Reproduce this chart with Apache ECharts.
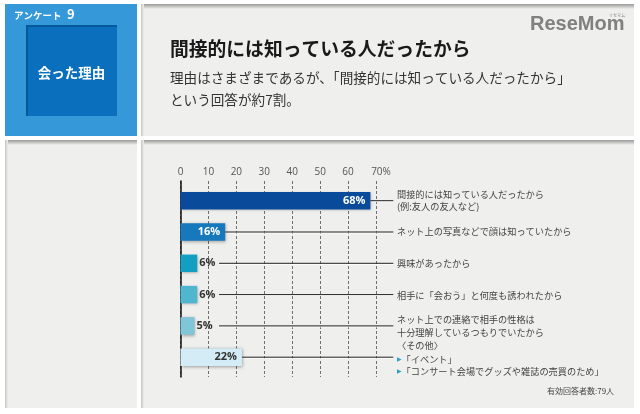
<!DOCTYPE html>
<html><head><meta charset="utf-8">
<style>html,body{margin:0;padding:0;background:#fff}#c{width:640px;height:414px}</style>
<script src="https://cdn.jsdelivr.net/npm/echarts@6/dist/echarts.min.js"></script>
</head><body><div id="c"></div>
<script>
const categories = ['間接的には知っている人だったから','ネット上の写真などで顔は知っていたから','興味があったから','相手に「会おう」と何度も誘われたから','ネット上での連絡で相手の性格は十分理解しているつもりでいたから','その他'];
const values = [68,16,6,6,5,22];
const leaderStart = [68,16,13.8,13.8,13.8,22];
const leaderEnd = 76.2;
const barColors = ['#0a4a9a','#1878bc','#129fc1','#50b5cf','#80c5d8','#d3ecf5'];
const xTicks = [0,10,20,30,40,50,60,70];
const textLines = [
  ['間接的には知っている人だったから',195],['(例:友人の友人など)',207],
  ['ネット上の写真などで顔は知っていたから',232],['興味があったから',263.5],
  ['相手に「会おう」と何度も誘われたから',295.5],
  ['ネット上での連絡で相手の性格は',320],['十分理解しているつもりでいたから',332.5],['〈その他〉',345.5],
  ['{m|▶}「イベント」',359.5],['{m|▶}「コンサート会場でグッズや雑誌の売買のため」',371.5]
];
const F = '"Noto Sans CJK JP","Noto Sans",sans-serif';
function panel(x,y,w,h){return [
  {type:'rect',shape:{x,y,width:w,height:h},style:{fill:'#efefed'}},
  {type:'rect',shape:{x,y,width:w,height:5},style:{fill:{type:'linear',x:0,y:0,x2:0,y2:1,colorStops:[{offset:0,color:'#9a9a98'},{offset:1,color:'#efefed'}]}}},
  {type:'rect',shape:{x,y,width:3,height:h},style:{fill:{type:'linear',x:0,y:0,x2:1,y2:0,colorStops:[{offset:0,color:'#c4c4c2'},{offset:1,color:'#efefed'}]}}}
];}
function txt(text,x,y,size,color,weight,align){return {type:'text',x,y,style:{text,fontFamily:F,fontSize:size,fill:color,fontWeight:weight||'normal',align:align||'left',verticalAlign:'middle',
  rich:{m:{fill:'#2f9fc4',fontSize:6,fontFamily:'"DejaVu Sans",sans-serif'}}}};}
const elements = [
  ...panel(141,4,493,132), ...panel(5,140,132,268), ...panel(141,140,493,268),
  {type:'rect',shape:{x:5,y:4,width:132,height:132},style:{fill:'#3498d9'}},
  {type:'rect',shape:{x:26,y:25,width:91,height:91},style:{fill:'#0a6fbd'}},
  {type:'rect',shape:{x:26,y:25,width:91,height:2},style:{fill:'#07589a'}},
  {type:'rect',shape:{x:26,y:25,width:2,height:91},style:{fill:'#07589a'}},
  txt('アンケート',14,15,9.5,'#fff','bold'), txt('9',67,14.5,13,'#fff','bold'),
  txt('会った理由',71.5,73,13.5,'#fff','bold','center'),
  txt('間接的には知っている人だったから',170,49,18.8,'#1a1a1a','bold'),
  txt('理由はさまざまであるが、「間接的には知っている人だったから」',170,78,13.6,'#333'),
  txt('という回答が約7割。',170,100,13.6,'#333'),
  {type:'text',x:530,y:24,style:{text:'ReseMom',fontFamily:'"Liberation Sans",sans-serif',fontSize:20,fontWeight:'bold',fill:'#808080',verticalAlign:'middle'}},
  {type:'text',x:609,y:15,style:{text:'リセマム',fontFamily:F,fontSize:4,fill:'#808080',verticalAlign:'middle'}},
  ...textLines.map(l=>txt(l[0],397,l[1],9.2,'#444')),
  txt('有効回答者数:79人',547,391,8,'#444')
];
const bars = values.map((v,i)=>{
  const inside = v>=16;
  return {value:v,itemStyle:{color:barColors[i]},label:{show:true,position:inside?'insideRight':'right',distance:inside?5:2,
    color:i<2?'#fff':'#333',fontSize:11,fontWeight:'bold',fontFamily:'"Open Sans",sans-serif',formatter:v+'%'}};
});
const chart = echarts.init(document.getElementById('c'),null,{renderer:'canvas'});
chart.setOption({
  animation:false,
  backgroundColor:'#fff',
  graphic:{elements},
  grid:[
    {left:180.5,width:195.5,top:181,height:196},
    {left:180.5,width:195.5,top:185.05,height:187.8}
  ],
  xAxis:[
    {gridIndex:0,type:'value',position:'top',min:0,max:70,interval:10,axisLine:{show:false},axisTick:{show:false},
     splitLine:{show:true,lineStyle:{color:'#6f6f6f',type:[3,2],width:1}},
     axisLabel:{margin:4,color:'#555',fontSize:10,fontFamily:'"Open Sans",sans-serif',
       formatter:v=>v===70?'{p|}{t|70%}':String(xTicks[xTicks.indexOf(v)]),rich:{p:{width:10},t:{color:'#555',fontSize:10,fontFamily:'"Open Sans",sans-serif'}}}},
    {gridIndex:1,type:'value',min:0,max:70,interval:10,show:false}
  ],
  yAxis:[
    {gridIndex:0,type:'category',data:categories,inverse:true,axisTick:{show:false},axisLabel:{show:false},axisLine:{show:true,onZero:false,lineStyle:{color:'#111',width:1.5}}},
    {gridIndex:1,type:'category',data:categories,inverse:true,show:false}
  ],
  series:[
    {type:'custom',xAxisIndex:1,yAxisIndex:1,z:3,silent:true,
     data:leaderStart.map((s,i)=>[s,leaderEnd,i]),
     encode:{x:[0,1],y:2},
     renderItem:(p,api)=>{
       const a=api.coord([api.value(0),api.value(2)]), b=api.coord([api.value(1),api.value(2)]);
       return {type:'group',children:[
         {type:'line',shape:{x1:a[0],y1:a[1]+1,x2:b[0],y2:b[1]+1},style:{stroke:'#fff',lineWidth:1}},
         {type:'line',shape:{x1:a[0],y1:a[1],x2:b[0],y2:b[1]},style:{stroke:'#222',lineWidth:1}}
       ]};
     }},
    {type:'bar',xAxisIndex:1,yAxisIndex:1,z:4,barWidth:17.5,data:bars,
     itemStyle:{shadowBlur:3,shadowColor:'rgba(0,0,0,0.35)',shadowOffsetX:1,shadowOffsetY:1}}
  ]
});
</script></body></html>
